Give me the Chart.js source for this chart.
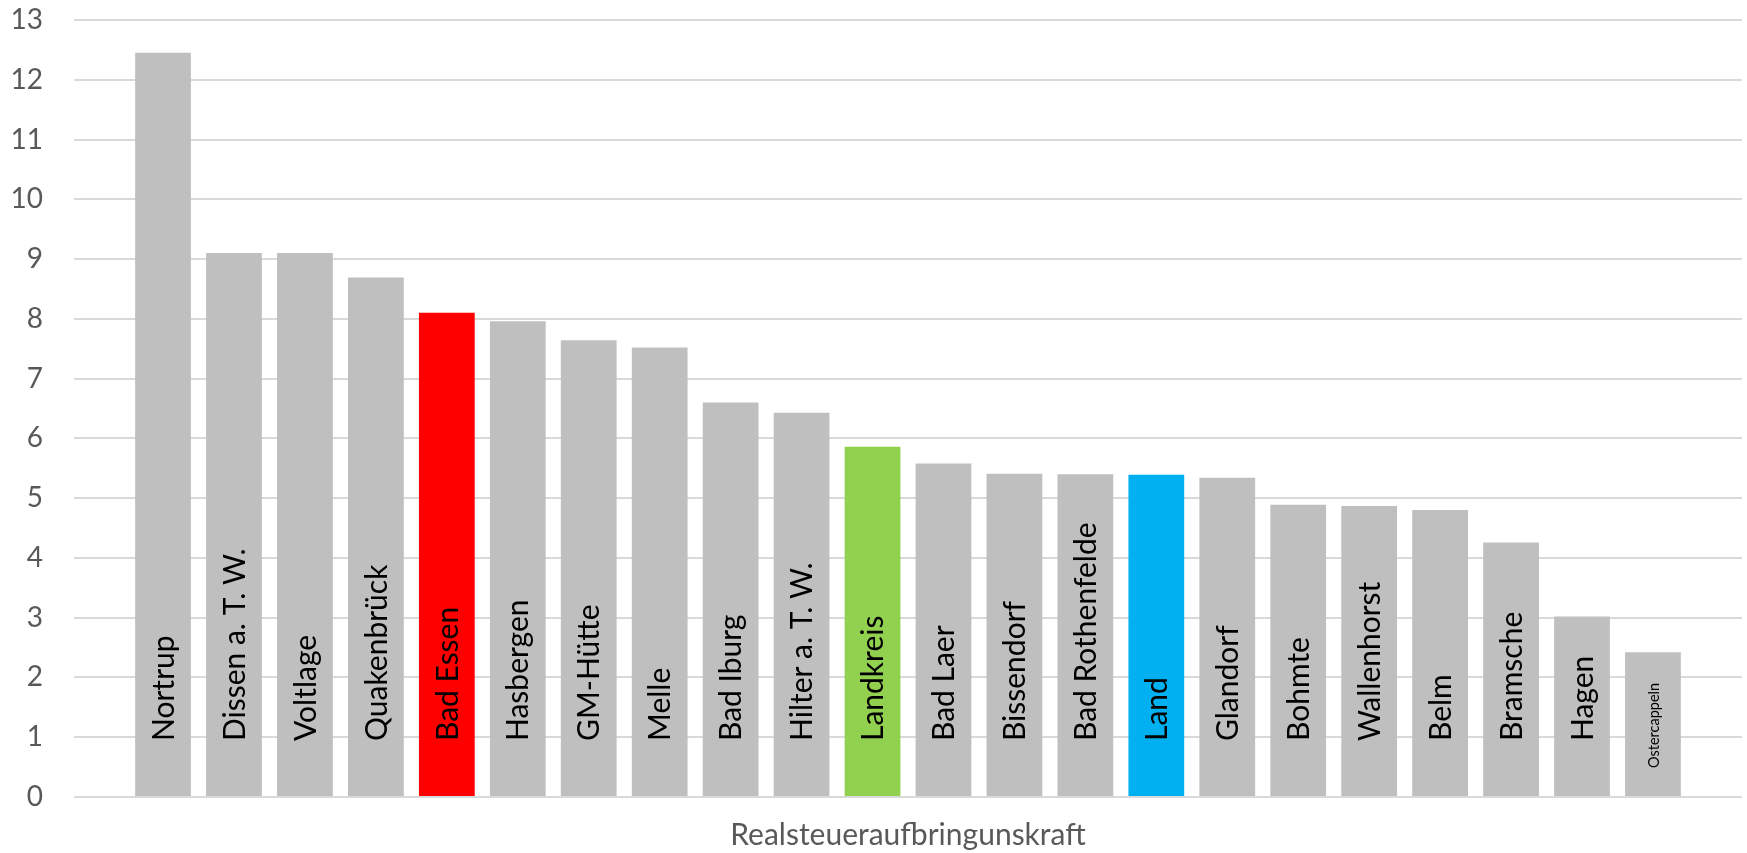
<!DOCTYPE html>
<html>
<head>
<meta charset="utf-8">
<script src="https://cdn.jsdelivr.net/npm/chart.js@4.4.1/dist/chart.umd.min.js"></script>
<style>
  html, body { margin: 0; padding: 0; background: #ffffff; }
  #wrap { width: 1747px; height: 853px; position: relative; }
</style>
</head>
<body>
<div id="wrap"><canvas id="c" width="1747" height="853"></canvas></div>
<script>
// ---- data ----
const categories = [
  'Nortrup', 'Dissen a. T. W.', 'Voltlage', 'Quakenbrück', 'Bad Essen', 'Hasbergen',
  'GM-Hütte', 'Melle', 'Bad Iburg', 'Hilter a. T. W.', 'Landkreis', 'Bad Laer',
  'Bissendorf', 'Bad Rothenfelde', 'Land', 'Glandorf', 'Bohmte', 'Wallenhorst',
  'Belm', 'Bramsche', 'Hagen', 'Ostercappeln'
];
const values = [
  12.45, 9.10, 9.10, 8.69, 8.10, 7.96,
  7.64, 7.52, 6.60, 6.43, 5.86, 5.58,
  5.41, 5.40, 5.39, 5.34, 4.89, 4.87,
  4.80, 4.26, 3.02, 2.42
];
const yTicks = [0, 1, 2, 3, 4, 5, 6, 7, 8, 9, 10, 11, 12, 13];
const axisTitle = 'Realsteueraufbringunskraft';

// ---- styles ----
const baseColor = '#BFBFBF';
const highlightColors = { 'Bad Essen': '#FF0000', 'Landkreis': '#92D050', 'Land': '#00B0F0' };
const labelStyle = { size: 30, lift: 55 };
const specialLabelStyle = { 'Ostercappeln': { size: 14.5, lift: 28 } };

const points = categories.map((c, i) => ({ x: i, y: values[i] }));
const colors = categories.map(c => highlightColors[c] || baseColor);

const barLabels = {
  id: 'barLabels',
  afterDatasetsDraw(chart) {
    const ctx = chart.ctx;
    const meta = chart.getDatasetMeta(0);
    meta.data.forEach((bar, i) => {
      const name = categories[i];
      const st = specialLabelStyle[name] || labelStyle;
      ctx.save();
      ctx.translate(bar.x + 1, bar.base - st.lift);
      ctx.rotate(-Math.PI / 2);
      ctx.font = st.size + 'px Lato';
      ctx.fillStyle = '#000000';
      ctx.textAlign = 'left';
      ctx.textBaseline = 'middle';
      ctx.fillText(name, 0, 0);
      ctx.restore();
    });
  }
};

new Chart(document.getElementById('c'), {
  type: 'bar',
  data: {
    datasets: [{
      data: points,
      backgroundColor: colors,
      borderWidth: 0,
      categoryPercentage: 1.0,
      barPercentage: 0.786
    }]
  },
  options: {
    responsive: false,
    devicePixelRatio: 1,
    animation: false,
    layout: { padding: { top: 20, right: 5, bottom: 0, left: 0 } },
    plugins: { legend: { display: false }, tooltip: { enabled: false } },
    scales: {
      x: {
        type: 'linear',
        offset: false,
        min: -1.255,
        max: categories.length - 1 + 1.255,
        grid: { display: false, offset: false },
        border: { display: false },
        ticks: { display: false },
        title: {
          display: true,
          text: axisTitle,
          color: '#595959',
          font: { family: 'Lato', size: 30 },
          padding: { top: 0, bottom: 0 }
        },
        afterFit(scale) { scale.height = 56; scale.paddingLeft = 0; scale.paddingRight = 0; }
      },
      y: {
        min: yTicks[0],
        max: yTicks[yTicks.length - 1],
        afterBuildTicks(scale) { scale.ticks = yTicks.map(v => ({ value: v })); },
        grid: { color: '#D9D9D9', lineWidth: 2, drawTicks: false },
        border: { display: false },
        ticks: {
          color: '#595959',
          font: { family: 'Lato', size: 28 },
          padding: 31
        },
        afterFit(scale) { scale.width = 74; scale.paddingTop = 0; scale.paddingBottom = 0; }
      }
    }
  },
  plugins: [barLabels]
});
</script>
</body>
</html>
